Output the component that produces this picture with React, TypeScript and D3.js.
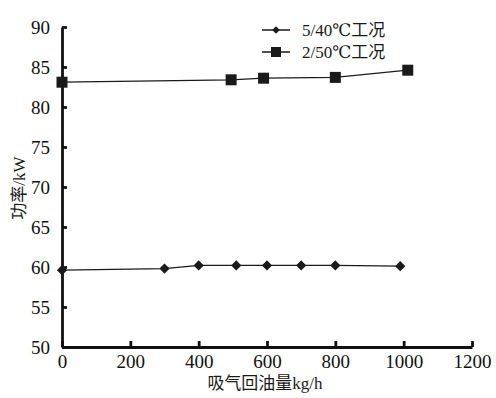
import React, { useEffect, useRef } from 'react';
import * as d3 from 'd3';

const series1X = [0, 300, 400, 510, 600, 700, 800, 990];
const series1Y = [59.6, 59.8, 60.2, 60.2, 60.2, 60.2, 60.2, 60.1];
const series2X = [0, 495, 590, 800, 1012];
const series2Y = [83.1, 83.4, 83.6, 83.7, 84.6];
const legendLabels = ['5/40℃工况', '2/50℃工况'];
const xTicks = [0, 200, 400, 600, 800, 1000, 1200];
const yTicks = [50, 55, 60, 65, 70, 75, 80, 85, 90];

const W = 496;
const H = 398;
const FONT = '"Liberation Serif", "DejaVu Serif", "Noto Sans CJK SC", serif';

const App = () => {
    const ref = useRef<SVGSVGElement>(null);

    useEffect(() => {
        const svg = d3.select(ref.current);
        svg.selectAll('*').remove();

        const x = d3.scaleLinear().domain([0, 1200]).range([62, 472]);
        const y = d3.scaleLinear().domain([50, 90]).range([347, 27]);

        const line = d3.line<number[]>()
            .x(d => x(d[0]))
            .y(d => y(d[1]));

        const d1 = series1X.map((v, i) => [v, series1Y[i]]);
        const d2 = series2X.map((v, i) => [v, series2Y[i]]);

        // lines
        [d1, d2].forEach(d => {
            svg.append('path')
                .datum(d)
                .attr('fill', 'none')
                .attr('stroke', '#1a1a1a')
                .attr('stroke-width', 1.3)
                .attr('d', line);
        });

        // y axis
        const yAxis = svg.append('g')
            .attr('transform', `translate(${x(0)},0)`)
            .call(d3.axisLeft(y).tickValues(yTicks).tickSize(-5).tickPadding(12).tickSizeOuter(0));
        // x axis
        const xAxis = svg.append('g')
            .attr('transform', `translate(0,${y(50)})`)
            .call(d3.axisBottom(x).tickValues(xTicks).tickFormat(d3.format('d')).tickSize(-6).tickPadding(8).tickSizeOuter(0));

        [yAxis, xAxis].forEach(g => {
            g.attr('font-family', FONT).attr('font-size', 19);
            g.select('.domain').attr('stroke', '#111').attr('stroke-width', 2.8);
            g.selectAll('.tick line').attr('stroke', '#111').attr('stroke-width', 2.8);
            g.selectAll('text')
                .attr('fill', '#111')
                .style('font-family', FONT)
                .style('font-size', '19px');
        });

        // markers (diamonds = rotated squares)
        const diamond = d3.symbol().type(d3.symbolSquare).size(52);
        svg.append('g').selectAll('path')
            .data(d1)
            .enter().append('path')
            .attr('d', diamond)
            .attr('transform', d => `translate(${x(d[0])},${y(d[1])}) rotate(45)`)
            .attr('fill', '#1a1a1a');

        svg.append('g').selectAll('rect')
            .data(d2)
            .enter().append('rect')
            .attr('x', d => x(d[0]) - 5.5)
            .attr('y', d => y(d[1]) - 5.5)
            .attr('width', 11)
            .attr('height', 11)
            .attr('fill', '#1a1a1a');

        // legend
        const legend = svg.append('g').attr('transform', 'translate(262,30)');
        legendLabels.forEach((lab, i) => {
            const g = legend.append('g').attr('transform', `translate(0,${i * 22})`);
            g.append('line')
                .attr('x1', 0).attr('x2', 28)
                .attr('stroke', '#1a1a1a').attr('stroke-width', 1.5);
            if (i === 0) {
                g.append('path')
                    .attr('d', d3.symbol().type(d3.symbolSquare).size(30))
                    .attr('transform', 'translate(14,0) rotate(45)')
                    .attr('fill', '#1a1a1a');
            } else {
                g.append('rect')
                    .attr('x', 9).attr('y', -5).attr('width', 10).attr('height', 10)
                    .attr('fill', '#1a1a1a');
            }
            g.append('text')
                .attr('x', 40)
                .attr('dy', '0.35em')
                .attr('fill', '#1a1a1a')
                .style('font-family', FONT)
                .style('font-size', '17px')
                .text(lab);
        });

        // axis titles
        svg.append('text')
            .attr('x', 265)
            .attr('y', 389)
            .attr('text-anchor', 'middle')
            .attr('fill', '#1a1a1a')
            .style('font-family', FONT)
            .style('font-size', '17px')
            .text('吸气回油量kg/h');

        svg.append('text')
            .attr('transform', 'translate(25,188) rotate(-90)')
            .attr('text-anchor', 'middle')
            .attr('fill', '#1a1a1a')
            .style('font-family', FONT)
            .style('font-size', '17px')
            .text('功率/kW');
    }, []);

    return (
        <svg
            ref={ref}
            width={W}
            height={H}
            style={{ position: 'absolute', left: 0, top: 0, background: '#fff' }}
        />
    );
};

export default App;
